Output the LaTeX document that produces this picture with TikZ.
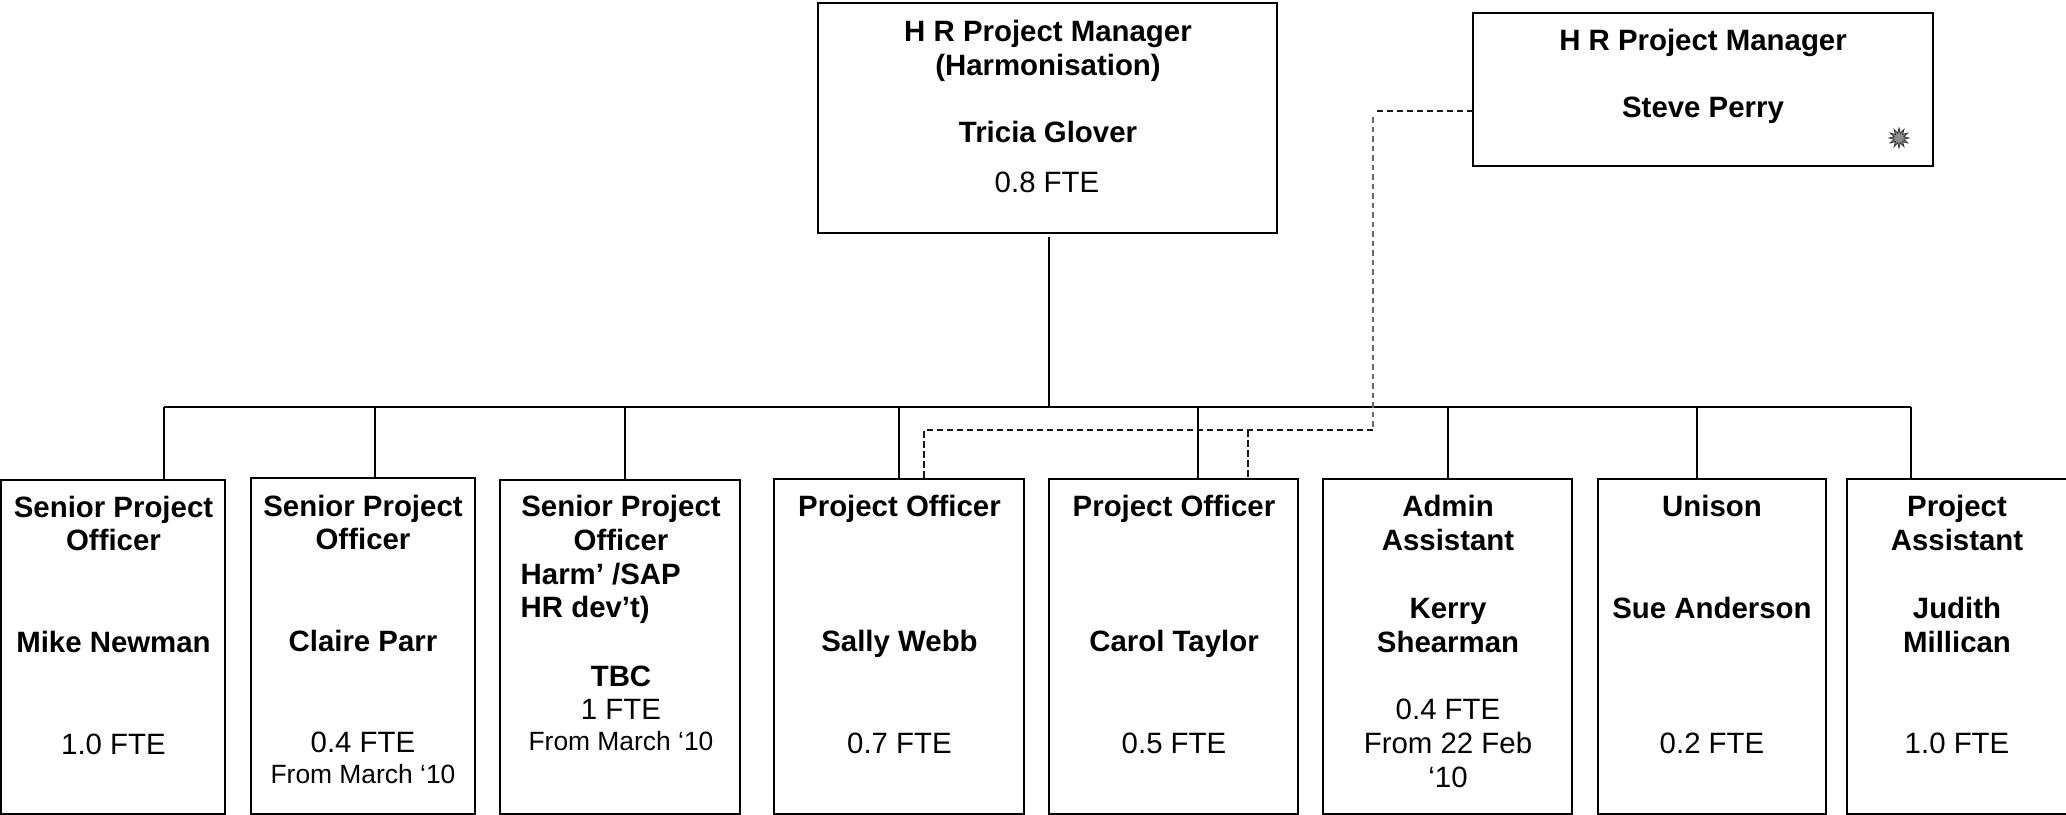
\documentclass[tikz,border=0pt]{standalone}
\usepackage{fontspec}
\setmainfont{Liberation Sans}
\usetikzlibrary{shapes.geometric}
\tikzset{
  boxnode/.style={draw=black,line width=2pt,inner sep=0pt,fill=none},
  solidline/.style={draw=black,line width=2pt},
  dashline/.style={draw=black!90,line width=1.2pt,dash pattern=on 6.5pt off 3.5pt},
  dashgrey/.style={draw=black!60,line width=2pt,dash pattern=on 5.5pt off 4pt},
  bt/.style={anchor=base,inner sep=0pt,font=\fontsize{29.4}{29.4}\selectfont\bfseries,align=center},
  rt/.style={anchor=base,inner sep=0pt,font=\fontsize{29.4}{29.4}\selectfont},
  st/.style={anchor=base,inner sep=0pt,font=\fontsize{26.4}{26.4}\selectfont},
  lbt/.style={bt,anchor=base west},
  sunburst/.style={star,star points=12,star point ratio=2.0,minimum size=20pt,inner sep=0pt,draw=black!85,line width=0.7pt,fill=black!45}
}
\newcommand{\pbox}[5]{\node[boxnode,minimum width={(#4-#2)*1pt},minimum height={(#5-#3)*1pt}] (#1) at ({(#2+#4)/2},{(#3+#5)/2}) {};}
\begin{document}
\begin{tikzpicture}[x=1pt,y=-1pt]
\useasboundingbox (0,0) rectangle (2066,814);
% boxes
\pbox{top}{818}{3}{1277}{233}
\pbox{side}{1473}{13}{1933}{166}
\pbox{b1}{1}{480}{225}{813.5}
\pbox{b2}{251}{478}{475}{813.5}
\pbox{b3}{500}{480}{740}{813.5}
\pbox{b4}{774}{479}{1024}{813.5}
\pbox{b5}{1049}{479}{1298}{813.5}
\pbox{b6}{1323}{479}{1572}{813.5}
\pbox{b7}{1598}{479}{1826}{813.5}
\pbox{b8}{1847}{479}{2070}{813.5}
% coordinates
\coordinate (busl) at (164,406.5);
\coordinate (busr) at (1911,406.5);
\coordinate (t2) at (375,406.5);
\coordinate (t3) at (625,406.5);
\coordinate (t4) at (899,406.5);
\coordinate (t5) at (1198,406.5);
\coordinate (t6) at (1447.5,406.5);
\coordinate (t7) at (1697,406.5);
\coordinate (dashbend) at (1373,430);
\coordinate (dl) at (924,430);
\coordinate (dr) at (1248,430);
\coordinate (dtop) at (1373,111);
\coordinate (dtopend) at (1375,111);
\coordinate (dstart) at (1373,117);
\coordinate (sidein) at (1473,111);
% solid connectors
\draw[solidline] (busl) -- (busr);
\draw[solidline] ([xshift=1pt,yshift=-3pt]top.south) -- ([xshift=1pt]top.south |- busl);
\draw[solidline] (busl) -- (busl |- b1.north);
\draw[solidline] (t2) -- (t2 |- b2.north);
\draw[solidline] (t3) -- (t3 |- b3.north);
\draw[solidline] (t4) -- (t4 |- b4.north);
\draw[solidline] (t5) -- (t5 |- b5.north);
\draw[solidline] (t6) -- (t6 |- b6.north);
\draw[solidline] (t7) -- (t7 |- b7.north);
\draw[solidline] (busr) -- (busr |- b8.north);
% dashed
\draw[dashline] (sidein) -- (dtopend);
\draw[dashgrey] (dstart) -- (dashbend);
\draw[dashline] (dashbend) -- (dl) -- (dl |- b4.north);
\draw[dashline] (dr) -- (dr |- b5.north);
% texts
\node[bt] (top1) at (1048,41) {H R Project Manager};
\node[bt] (top2) at (1048,75) {(Harmonisation)};
\node[bt] (top3) at (1048,142) {Tricia Glover};
\node[rt] (top4) at (1047,192) {0.8 FTE};
\node[bt] (side1) at (1703,50) {H R Project Manager};
\node[bt] (side2) at (1703,117) {Steve Perry};
\node[sunburst] (burst) at (1899,138) {};
\node[bt] (a1) at (113.5,517.5) {Senior Project};
\node[bt] (a2) at (113.5,550) {Officer};
\node[bt] (a3) at (113.5,652) {Mike Newman};
\node[rt] (a4) at (113.5,754) {1.0 FTE};
\node[bt] (c1) at (363,516.5) {Senior Project};
\node[bt] (c2) at (363,549.7) {Officer};
\node[bt] (c3) at (363,651) {Claire Parr};
\node[rt] (c4) at (363,752.7) {0.4 FTE};
\node[st] (c5) at (363,783) {From March ‘10};
\node[bt] (d1) at (621,516.5) {Senior Project};
\node[bt] (d2) at (621,550) {Officer};
\node[lbt] (d3) at (520.5,584) {Harm’ /SAP};
\node[lbt] (d4) at (520.5,617) {HR dev’t)};
\node[bt] (d5) at (621,686) {TBC};
\node[rt] (d6) at (621,719) {1 FTE};
\node[st] (d7) at (621,750.5) {From March ‘10};
\node[bt] (e1) at (899.5,516.5) {Project Officer};
\node[bt] (e2) at (899.5,651.5) {Sally Webb};
\node[rt] (e3) at (899.5,753.5) {0.7 FTE};
\node[bt] (f1) at (1174,516.5) {Project Officer};
\node[bt] (f2) at (1174,651.5) {Carol Taylor};
\node[rt] (f3) at (1174,753.5) {0.5 FTE};
\node[bt] (g1) at (1448,516) {Admin};
\node[bt] (g2) at (1448,550) {Assistant};
\node[bt] (g3) at (1448,618) {Kerry};
\node[bt] (g4) at (1448,652) {Shearman};
\node[rt] (g5) at (1448,719) {0.4 FTE};
\node[rt] (g6) at (1448,753) {From 22 Feb};
\node[rt] (g7) at (1448,787) {‘10};
\node[bt] (h1) at (1712,516) {Unison};
\node[bt] (h2) at (1712,618) {Sue Anderson};
\node[rt] (h3) at (1712,753) {0.2 FTE};
\node[bt] (i1) at (1957,516) {Project};
\node[bt] (i2) at (1957,550) {Assistant};
\node[bt] (i3) at (1957,618) {Judith};
\node[bt] (i4) at (1957,652) {Millican};
\node[rt] (i5) at (1957,753) {1.0 FTE};
\end{tikzpicture}
\end{document}
